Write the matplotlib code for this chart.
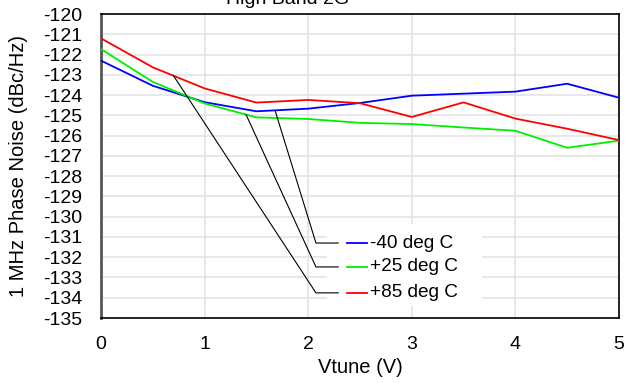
import numpy as np
import matplotlib.pyplot as plt
from matplotlib.patches import Rectangle

plt.rcParams['font.family'] = ['Liberation Sans', 'DejaVu Sans']
plt.rcParams['axes.unicode_minus'] = False

vtune = [0, 0.5, 1, 1.5, 2, 2.5, 3, 3.5, 4, 4.5, 5]
pn_m40 = [-122.3, -123.54, -124.35, -124.8, -124.67, -124.39, -124.03, -123.93, -123.83, -123.44, -124.13]
pn_p25 = [-121.73, -123.35, -124.41, -125.1, -125.18, -125.37, -125.43, -125.6, -125.76, -126.6, -126.25]
pn_p85 = [-121.2, -122.63, -123.67, -124.37, -124.24, -124.4, -125.08, -124.36, -125.16, -125.66, -126.22]

labels = ['-40 deg C', '+25 deg C', '+85 deg C']
colors = ['#0000ff', '#00ee00', '#ff0000']
series = [pn_m40, pn_p25, pn_p85]
# where the leader line leaves each curve, and the row of its label
leader_x = [1.68, 1.4, 0.7]
label_y = [-131.3, -132.48, -133.76]

fig = plt.figure(figsize=(6.34, 3.83), dpi=100)
ax = fig.add_axes([0.1593, 0.1697, 0.8170, 0.7937])

for y, c, lab in zip(series, colors, labels):
    ax.plot(vtune, y, color=c, lw=1.3, label=lab, zorder=3)

ax.set_xlim(0, 5)
ax.set_ylim(-135, -120)
ax.set_xticks(range(0, 6))
ax.set_yticks(range(-135, -119))
ax.grid(True, color='#e4e4e4', lw=1.2, zorder=0)
ax.tick_params(length=0, labelsize=14)
ax.tick_params(axis='y', pad=13.5)
ax.tick_params(axis='x', pad=13)
for s in ['top', 'right', 'bottom']:
    ax.spines[s].set_color('black')
    ax.spines[s].set_linewidth(1.2)
ax.spines['left'].set_color('#555555')
ax.spines['left'].set_linewidth(2)

ax.set_xlabel('Vtune (V)', fontsize=14.5)
ax.set_ylabel('1 MHz Phase Noise (dBc/Hz)', fontsize=14.5)
ax.xaxis.label.set_verticalalignment('center')
ax.yaxis.label.set_verticalalignment('center')
ax.xaxis.set_label_coords(0.5, -0.164)
ax.yaxis.set_label_coords(-0.16, 0.5)
fig.text(288 / 634, 1 - 4 / 383, 'High Band 2G', fontsize=14, ha='center', va='baseline')

# label block with white background
ax.add_patch(Rectangle((2.18, -134.4), 1.5, 4.05, facecolor='white', edgecolor='none', zorder=2))
for y, c, lab, lx, ly in zip(series, colors, labels, leader_x, label_y):
    y0 = np.interp(lx, vtune, y)
    ax.plot([lx, 2.075, 2.29], [y0, ly, ly], color='black', lw=0.8, zorder=4)
    ax.plot([2.37, 2.57], [ly, ly], color=c, lw=1.3, zorder=4)
    ax.text(2.6, ly, lab, fontsize=13.7, va='center', ha='left', zorder=4)

fig.savefig('out.png', dpi=100)
